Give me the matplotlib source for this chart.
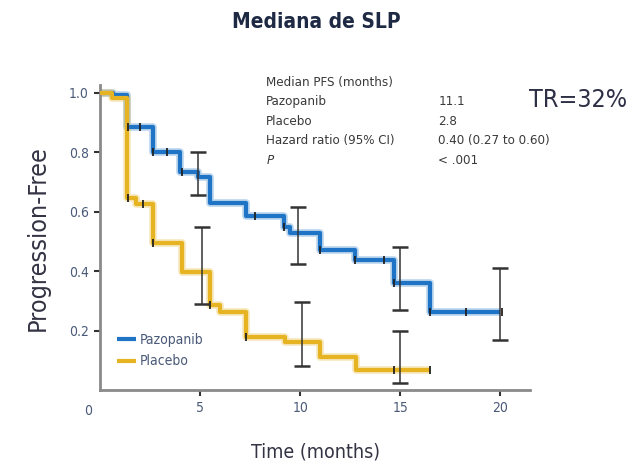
import numpy as np
import matplotlib
matplotlib.use("Agg")
import matplotlib.pyplot as plt
from matplotlib.transforms import blended_transform_factory

# Kaplan-Meier steps (months, proportion progression-free)
paz_t = [0, 0.65, 1.35, 2.65, 4.0, 4.9, 5.5, 7.3, 9.2, 9.5, 11.0, 12.75, 14.67, 16.5, 20.0]
paz_s = [1.0, 0.99, 0.884, 0.80, 0.733, 0.715, 0.63, 0.584, 0.548, 0.527, 0.47, 0.436, 0.36, 0.263, 0.263]
pla_t = [0, 0.6, 1.35, 1.8, 2.65, 4.1, 5.5, 6.0, 7.3, 9.25, 11.0, 12.8, 16.5]
pla_s = [1.0, 0.98, 0.647, 0.627, 0.493, 0.397, 0.285, 0.263, 0.179, 0.162, 0.112, 0.067, 0.067]

# censoring marks
paz_cens_t = [1.4, 2.0, 2.65, 3.35, 4.1, 7.75, 9.2, 11.0, 12.75, 14.2, 14.7, 16.5, 18.3, 20.1]
pla_cens_t = [1.4, 2.15, 2.65, 5.5, 7.3, 14.67, 16.5]

# 95% CI bars
paz_ci_t = [4.9, 9.9, 15.0, 20.0]
paz_ci_lo = [0.654, 0.425, 0.268, 0.17]
paz_ci_hi = [0.80, 0.615, 0.48, 0.41]
pla_ci_t = [5.1, 10.1, 15.0]
pla_ci_lo = [0.29, 0.082, 0.023]
pla_ci_hi = [0.548, 0.296, 0.20]

xticks = [5, 10, 15, 20]
yticks = [0.2, 0.4, 0.6, 0.8, 1.0]

stats_rows = [("Median PFS (months)", ""),
              ("Pazopanib", "11.1"),
              ("Placebo", "2.8"),
              ("Hazard ratio (95% CI)", "0.40 (0.27 to 0.60)"),
              ("P", "< .001")]

BLUE = "#1f74c6"
GOLD = "#e6b422"
INK = "#3a3a3a"
TICK = "#4a5a78"
COND = dict(family="DejaVu Sans", stretch="condensed")


def step_value(ts, ss, x):
    i = np.searchsorted(ts, x, side="right") - 1
    return ss[max(i, 0)]


fig = plt.figure(figsize=(6.3, 4.7), dpi=100, facecolor="white")
ax = fig.add_axes([0.159, 0.170, 0.683, 0.649])
ax.set_xlim(0, 21.5)
ax.set_ylim(0, 1.025)

for t, s, c, lab in [(paz_t, paz_s, BLUE, "Pazopanib"), (pla_t, pla_s, GOLD, "Placebo")]:
    ax.step(t, s, where="post", color=c, lw=5.5, alpha=0.3, solid_capstyle="butt", zorder=2)
    ax.step(t, s, where="post", color=c, lw=3.0, label=lab, solid_capstyle="butt", zorder=3)

for ts, ss, cens in [(paz_t, paz_s, paz_cens_t), (pla_t, pla_s, pla_cens_t)]:
    cy = [step_value(ts, ss, x) for x in cens]
    ax.plot(cens, cy, ls="none", marker="|", ms=6, mew=1.3, color="#222222", zorder=4)

for ct, lo, hi in [(paz_ci_t, paz_ci_lo, paz_ci_hi), (pla_ci_t, pla_ci_lo, pla_ci_hi)]:
    lo = np.array(lo); hi = np.array(hi)
    mid = (lo + hi) / 2
    ax.errorbar(ct, mid, yerr=[mid - lo, hi - mid], fmt="none", ecolor="#333333",
                elinewidth=1.1, capsize=5.5, capthick=1.8, zorder=5)

for s in ["top", "right"]:
    ax.spines[s].set_visible(False)
for s in ["left", "bottom"]:
    ax.spines[s].set_color("#8a8a8a")
    ax.spines[s].set_linewidth(2)

ax.set_xticks(xticks)
ax.set_xticklabels([str(v) for v in xticks], fontsize=10, color=TICK, **COND)
ax.set_yticks(yticks)
ax.set_yticklabels([f"{v:.1f}" for v in yticks], fontsize=10, color=TICK, **COND)
ax.tick_params(axis="both", length=4, width=1.5, color="#333333", pad=4)
trans = blended_transform_factory(ax.transData, ax.transAxes)
ax.text(-0.6, -0.068, "0", transform=trans, ha="center", va="center",
        fontsize=10, color=TICK, **COND)

ax.set_xlabel("Time (months)", fontsize=14, color="#333344", labelpad=20, **COND)
ax.set_ylabel("Progression-Free", fontsize=18, color="#333344", labelpad=14, **COND)

leg = ax.legend(loc="lower left", bbox_to_anchor=(0.01, 0.03), frameon=False,
                handlelength=1.4, handletextpad=0.25, labelspacing=0.55,
                prop={"family": "DejaVu Sans", "stretch": "condensed", "size": 10})
for txt in leg.get_texts():
    txt.set_color(TICK)

y0 = 1.01
for i, (name, val) in enumerate(stats_rows):
    y = y0 - i * 0.064
    ax.text(0.386, y, name, transform=ax.transAxes, ha="left", va="center",
            fontsize=9.5, color=INK, style="italic" if name == "P" else "normal", **COND)
    if val:
        ax.text(0.786, y, val, transform=ax.transAxes, ha="left", va="center",
                fontsize=9.5, color=INK, **COND)

fig.text(0.917, 0.787, "TR=32%", ha="center", va="center",
         fontsize=18, color="#2d2f45", **COND)
fig.text(0.502, 0.953, "Mediana de SLP", ha="center", va="center",
         fontsize=15, fontweight="bold", color="#1e2a44", **COND)

fig.savefig("out.png", dpi=100, facecolor="white")
